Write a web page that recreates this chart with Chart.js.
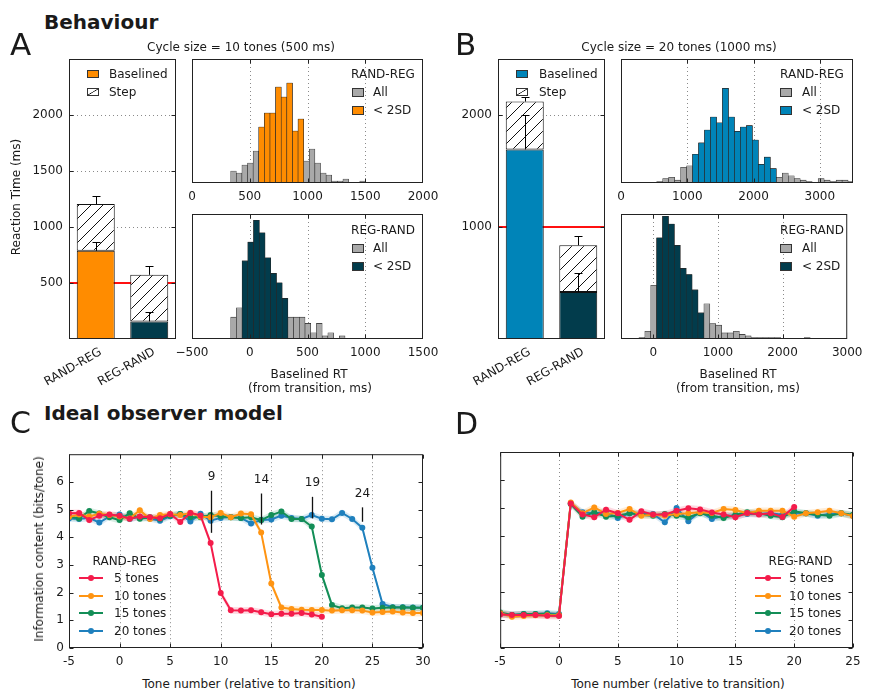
<!DOCTYPE html>
<html><head><meta charset="utf-8">
<script src="https://cdn.jsdelivr.net/npm/chart.js"></script>
<style>
html,body{margin:0;padding:0;background:#fff;}
body{width:871px;height:692px;position:relative;overflow:hidden;font-family:"DejaVu Sans",sans-serif;color:#1a1a1a;}
canvas{position:absolute;}
.t{position:absolute;white-space:nowrap;line-height:1;}
.bx{position:absolute;box-sizing:border-box;border:1px solid #333;}
</style></head><body>
<script>
// ================= DATA =================
// Panels A/B: bar charts (ms)
const barCategories = ['RAND-REG', 'REG-RAND'];
const baselinedA = [787, 157];
const totalA = [1205, 573];
const errTotalA = [75, 83];
const errBaselinedA = [83, 83];
const baselinedB = [1693, 419];
const totalB = [2120, 837];
const errTotalB = [41, 81];
const errBaselinedB = [308, 174];
const barTicksA = [500, 1000, 1500, 2000];
const barTicksB = [1000, 2000];

// Histograms: bin centres (ms) and counts; *_sel = index range of bins inside 2SD
const histA1Bins = [359.3, 407.9, 456.5, 505.1, 553.7, 602.3, 650.9, 699.5, 748.1, 796.7, 845.3, 893.9, 942.5, 991.1, 1039.7, 1088.3, 1136.9, 1185.5, 1234.1, 1282.7, 1331.3, 1379.9, 1428.5, 1477.1];
const histA1Counts = [6, 5, 9, 10, 16, 28, 35, 35, 48, 43, 50, 26, 32, 11, 17, 10, 5, 4, 1, 1, 2, 0, 0, 1];
const histA1Sel = [5, 12];
const histA2Bins = [-140.25, -90.75, -41.25, 8.25, 57.75, 107.25, 156.75, 206.25, 255.75, 305.25, 354.75, 404.25, 453.75, 503.25, 552.75, 602.25, 651.75, 701.25, 750.75, 800.25];
const histA2Counts = [7, 10, 25, 31, 38, 34, 26, 21, 18, 13, 7, 7, 7, 5, 2, 5, 1, 2, 0, 1];
const histA2Sel = [2, 9];
const histB1Bins = [583.1, 673.4, 763.6, 853.9, 944.1, 1034.4, 1124.6, 1214.9, 1305.1, 1395.4, 1485.6, 1575.9, 1666.1, 1756.4, 1846.6, 1936.9, 2027.1, 2117.4, 2207.6, 2297.9, 2388.1, 2478.4, 2568.6, 2658.9, 2749.1, 2839.4, 2929.6, 3019.9, 3110.1, 3200.4, 3290.6, 3380.9, 3471.1];
const histB1Counts = [1, 3, 4, 2, 11, 12, 20, 28, 37, 46, 42, 66, 46, 36, 39, 40, 30, 13, 18, 10, 4, 7, 5, 3, 2, 1, 0, 3, 2, 1, 2, 2, 1];
const histB1Sel = [6, 19];
const histB2Bins = [-177.3, -85.9, 5.5, 96.9, 188.3, 279.7, 371.1, 462.5, 553.9, 645.3, 736.7, 828.1, 919.5, 1010.9, 1102.3, 1193.7, 1285.1, 1376.5, 1467.9, 1559.3, 1650.7, 1742.1, 1833.5, 1924.9, 2016.3, 2107.7, 2199.1, 2290.5, 2381.9];
const histB2Counts = [1, 5, 35, 66, 80, 75, 61, 46, 42, 32, 17, 23, 10, 9, 4, 4, 5, 3, 2, 1, 1, 1, 1, 1, 0, 0, 0, 0, 1];
const histB2Sel = [3, 10];
const histTicksA1 = [0, 500, 1000, 1500, 2000];
const histTicksA2 = [-500, 0, 500, 1000, 1500];
const histTicksB1 = [0, 1000, 2000, 3000];
const histTicksB2 = [0, 1000, 2000, 3000];

// Panels C/D: information content (bits/tone)
const seriesLabels = ['5 tones', '10 tones', '15 tones', '20 tones'];
const tonesC = [-5,-4,-3,-2,-1,0,1,2,3,4,5,6,7,8,9,10,11,12,13,14,15,16,17,18,19,20,21,22,23,24,25,26,27,28,29,30];
const c5  = [4.87,4.88,4.62,4.78,4.82,4.78,4.67,4.75,4.72,4.69,4.84,4.55,4.88,4.79,3.79,1.99,1.36,1.35,1.36,1.29,1.22,1.24,1.24,1.26,1.21,1.13];
const c10 = [4.73,4.82,4.75,4.85,4.80,4.75,4.68,4.98,4.66,4.80,4.83,4.80,4.88,4.74,4.72,4.88,4.72,4.86,4.83,4.17,2.33,1.46,1.41,1.38,1.37,1.37,1.35,1.36,1.36,1.35,1.28,1.30,1.32,1.28,1.26,1.26];
const c15 = [4.75,4.68,4.95,4.86,4.72,4.62,4.87,4.67,4.72,4.66,4.78,4.84,4.72,4.72,4.80,4.76,4.72,4.70,4.72,4.62,4.80,4.93,4.66,4.66,4.39,2.64,1.55,1.44,1.46,1.46,1.43,1.45,1.46,1.46,1.45,1.45];
const c20 = [4.68,4.66,4.70,4.53,4.75,4.82,4.66,4.74,4.68,4.60,4.76,4.84,4.57,4.85,4.60,4.70,4.73,4.70,4.50,4.62,4.64,4.78,4.70,4.66,4.80,4.67,4.65,4.88,4.66,4.34,2.90,1.59,1.47,1.47,1.46,1.45];
const tonesD = [-5,-4,-3,-2,-1,0,1,2,3,4,5,6,7,8,9,10,11,12,13,14,15,16,17,18,19,20,21,22,23,24,25];
const d5  = [1.20,1.18,1.18,1.18,1.15,1.14,5.16,4.77,4.67,4.94,4.81,4.58,4.88,4.77,4.77,4.90,4.99,4.95,4.84,4.77,4.67,4.82,4.77,4.81,4.68,5.04];
const d10 = [1.24,1.12,1.14,1.17,1.17,1.17,5.20,4.81,5.02,4.79,4.82,4.96,4.72,4.76,4.72,4.79,4.81,4.85,4.82,4.96,4.93,4.81,4.90,4.90,4.90,4.69,4.81,4.85,4.90,4.81,4.71];
const d15 = [1.27,1.18,1.21,1.21,1.21,1.18,5.14,4.69,4.85,4.69,4.72,4.81,4.76,4.72,4.79,4.72,4.67,4.81,4.72,4.64,4.76,4.85,4.81,4.72,4.67,4.88,4.81,4.76,4.72,4.81,4.76];
const d20 = [1.21,1.18,1.21,1.21,1.24,1.21,5.16,4.85,4.81,4.85,4.64,4.81,4.79,4.79,4.49,5.00,4.53,4.88,4.61,4.72,4.72,4.79,4.79,4.81,4.76,4.81,4.81,4.72,4.79,4.81,4.72];
const semIC = 0.12;
const annotTones = [9, 14, 19, 24];
const annotTop = [5.68, 5.58, 5.46, 5.08];
const annotBottom = [4.16, 4.46, 4.68, 4.56];
const annotLabelY = [6.18, 6.06, 5.98, 5.57];
const ticksCx = [-5, 0, 5, 10, 15, 20, 25, 30];
const ticksDx = [-5, 0, 5, 10, 15, 20, 25];
const ticksIC = [0, 1, 2, 3, 4, 5, 6];

// ================= STYLE =================
const grayFill = '#a9a9a9', edge = '#262626';
const orange = '#ff8c00', blue = '#0084b8', navy = '#023c4c';
const lineColors = ['#f41c4b', '#ff9412', '#138e57', '#1f80bd'];
const bandColors = ['rgba(244,28,75,0.17)', 'rgba(255,148,18,0.17)', 'rgba(19,142,87,0.17)', 'rgba(31,128,189,0.17)'];
Chart.defaults.font.family = '"DejaVu Sans", sans-serif';
Chart.defaults.font.size = 12;
Chart.defaults.color = '#1a1a1a';

function hatchPattern() {
  const s = 12, p = document.createElement('canvas');
  p.width = s; p.height = s;
  const g = p.getContext('2d');
  g.fillStyle = '#fff'; g.fillRect(0, 0, s, s);
  g.strokeStyle = '#111'; g.lineWidth = 1;
  g.beginPath();
  g.moveTo(-1, s + 1); g.lineTo(s + 1, -1);
  g.moveTo(-1, 1); g.lineTo(1, -1);
  g.moveTo(s - 1, s + 1); g.lineTo(s + 1, s - 1);
  g.stroke();
  return g.createPattern(p, 'repeat');
}
const hatch = hatchPattern();

let pid = 0;
function mpl(o) {
  return {
    id: 'mpl' + (pid++),
    beforeDatasetsDraw(chart) {
      const ctx = chart.ctx, a = chart.chartArea, xs = chart.scales.x, ys = chart.scales.y;
      ctx.save();
      ctx.beginPath(); ctx.rect(a.left, a.top, a.right - a.left, a.bottom - a.top); ctx.clip();
      ctx.strokeStyle = '#8a8a8a'; ctx.lineWidth = 1; ctx.setLineDash([1, 3]);
      (o.xGrid || []).forEach(v => { const p = Math.round(xs.getPixelForValue(v)) + 0.5; ctx.beginPath(); ctx.moveTo(p, a.top); ctx.lineTo(p, a.bottom); ctx.stroke(); });
      (o.yGrid || []).forEach(v => { const p = Math.round(ys.getPixelForValue(v)) + 0.5; ctx.beginPath(); ctx.moveTo(a.left, p); ctx.lineTo(a.right, p); ctx.stroke(); });
      ctx.setLineDash([]);
      (o.hLines || []).forEach(h => { const p = ys.getPixelForValue(h.v); ctx.strokeStyle = h.color; ctx.lineWidth = h.width; ctx.beginPath(); ctx.moveTo(a.left, p); ctx.lineTo(a.right, p); ctx.stroke(); });
      ctx.restore();
    },
    afterDatasetsDraw(chart) {
      const ctx = chart.ctx, a = chart.chartArea, xs = chart.scales.x, ys = chart.scales.y;
      ctx.save();
      if (o.extra) o.extra(chart, ctx, xs, ys, a);
      ctx.strokeStyle = '#222'; ctx.lineWidth = 1; ctx.setLineDash([]);
      const L = a.left + 0.5, T = a.top + 0.5, R = a.right - 0.5, B = a.bottom - 0.5;
      ctx.strokeRect(L, T, R - L, B - T);
      const tl = 4;
      ctx.beginPath();
      (o.xTicks || []).forEach(v => { const p = Math.round(xs.getPixelForValue(v)) + 0.5; ctx.moveTo(p, B); ctx.lineTo(p, B - tl); ctx.moveTo(p, T); ctx.lineTo(p, T + tl); });
      (o.yTicks || []).forEach(v => { const p = Math.round(ys.getPixelForValue(v)) + 0.5; ctx.moveTo(L, p); ctx.lineTo(L + tl, p); ctx.moveTo(R, p); ctx.lineTo(R - tl, p); });
      ctx.stroke();
      ctx.restore();
    }
  };
}

function makeChart(plot, pad, type, datasets, labels, xScale, yScale, deco) {
  const c = document.createElement('canvas');
  const W = plot.r - plot.l + pad.l + pad.r, H = plot.b - plot.t + pad.t + pad.b;
  c.width = W; c.height = H;
  Object.assign(c.style, {left: (plot.l - pad.l) + 'px', top: (plot.t - pad.t) + 'px', width: W + 'px', height: H + 'px'});
  document.body.appendChild(c);
  xScale.afterFit = s => { s.height = pad.b; };
  yScale.afterFit = s => { s.width = pad.l; };
  xScale.grid = {display: false, drawTicks: false, offset: false}; xScale.border = {display: false};
  yScale.grid = {display: false, drawTicks: false}; yScale.border = {display: false};
  const data = {datasets};
  if (labels) data.labels = labels;
  return new Chart(c, {
    type, data,
    options: {
      responsive: false, animation: false, devicePixelRatio: 1, events: [],
      layout: {padding: {left: 0, top: pad.t, right: pad.r, bottom: 0}},
      plugins: {legend: {display: false}, tooltip: {enabled: false}},
      scales: {x: xScale, y: yScale}
    },
    plugins: [mpl(deco)]
  });
}

function fixedTicks(arr) { return s => { s.ticks = arr.map(v => ({value: v})); }; }

function errorBars(total, errT, base, errB) {
  return (chart, ctx, xs, ys) => {
    ctx.strokeStyle = '#000'; ctx.lineWidth = 1;
    barCategories.forEach((c, i) => {
      const x = Math.round(xs.getPixelForValue(i)) + 0.5;
      [[total[i], errT[i]], [base[i], errB[i]]].forEach(([v, e]) => {
        const y0 = ys.getPixelForValue(v), y1 = Math.round(ys.getPixelForValue(v + e)) + 0.5;
        ctx.beginPath(); ctx.moveTo(x, y0); ctx.lineTo(x, y1); ctx.moveTo(x - 4, y1); ctx.lineTo(x + 4, y1); ctx.stroke();
      });
    });
  };
}

function barPanel(plot, pad, base, total, errT, errB, baseColors, ticks, yMax, grid, refLine) {
  makeChart(plot, pad, 'bar', [
    {label: 'Baselined', data: base, backgroundColor: baseColors, borderColor: '#111', borderWidth: 1, borderSkipped: false, barPercentage: 0.71, categoryPercentage: 1},
    {label: 'Step', data: total.map((t, i) => t - base[i]), backgroundColor: hatch, borderColor: '#111', borderWidth: 1, borderSkipped: false, barPercentage: 0.71, categoryPercentage: 1}
  ], barCategories,
  {type: 'category', stacked: true, offset: true, ticks: {minRotation: 30, maxRotation: 30, padding: 6, labelOffset: 5}},
  {type: 'linear', stacked: true, min: 0, max: yMax, afterBuildTicks: fixedTicks(ticks), ticks: {padding: 6, callback: v => String(v)}},
  {yGrid: grid, hLines: [{v: refLine, color: '#ff1010', width: 2}], yTicks: ticks, extra: errorBars(total, errT, base, errB)});
}

function histPanel(plot, pad, bins, counts, sel, selColor, xMin, xMax, yMax, ticks, grid) {
  const all = bins.map((b, i) => ({x: b, y: counts[i]}));
  const inside = all.filter((d, i) => i >= sel[0] && i <= sel[1]);
  const common = {borderColor: edge, borderWidth: 0.6, borderSkipped: false, grouped: false, barPercentage: 1, categoryPercentage: 1};
  makeChart(plot, pad, 'bar', [
    Object.assign({label: '< 2SD', data: inside, backgroundColor: selColor}, common),
    Object.assign({label: 'All', data: all, backgroundColor: grayFill}, common)
  ], null,
  {type: 'linear', offset: false, min: xMin, max: xMax, afterBuildTicks: fixedTicks(ticks), ticks: {padding: 6.5, callback: v => String(v).replace('-', '\u2212')}},
  {type: 'linear', min: 0, max: yMax, ticks: {display: false}},
  {xGrid: grid, xTicks: grid});
}

function icPanel(plot, pad, tones, series, xMin, xMax, xTicks, xGrid, showY, extra) {
  const ds = [];
  series.forEach((s, k) => ds.push({label: seriesLabels[k], data: s.map((v, i) => ({x: tones[i], y: v})), borderColor: lineColors[k], backgroundColor: lineColors[k], borderWidth: 2, pointRadius: 3, pointBorderWidth: 0, pointHoverRadius: 0, tension: 0, fill: false}));
  series.forEach((s, k) => {
    ds.push({data: s.map((v, i) => ({x: tones[i], y: v - semIC})), borderWidth: 0, pointRadius: 0, fill: false, borderColor: 'rgba(0,0,0,0)'});
    ds.push({data: s.map((v, i) => ({x: tones[i], y: v + semIC})), borderWidth: 0, pointRadius: 0, fill: '-1', borderColor: 'rgba(0,0,0,0)', backgroundColor: bandColors[k]});
  });
  makeChart(plot, pad, 'line', ds, null,
    {type: 'linear', offset: false, min: xMin, max: xMax, afterBuildTicks: fixedTicks(xTicks), ticks: {padding: 6.2, callback: v => String(v)}},
    {type: 'linear', min: 0, max: 7, afterBuildTicks: fixedTicks(ticksIC), ticks: {display: showY, padding: 5, callback: v => String(v)}},
    {xGrid: xGrid, xTicks: xTicks, yTicks: ticksIC, extra: extra});
}

// ================= HTML TEXT HELPERS =================
function label(text, x, y, o = {}) {
  const d = document.createElement('div');
  d.className = 't'; d.textContent = text;
  d.style.left = x + 'px'; d.style.top = y + 'px';
  d.style.fontSize = (o.size || 12) + 'px';
  if (o.bold) d.style.fontWeight = 'bold';
  const ax = o.align === 'left' ? '0' : '-50%';
  d.style.transform = 'translate(' + ax + ',-50%)' + (o.rot ? ' rotate(' + o.rot + 'deg)' : '');
  document.body.appendChild(d);
}
function swatch(x, y, w, h, bg) {
  const d = document.createElement('div');
  d.className = 'bx';
  Object.assign(d.style, {left: x + 'px', top: y + 'px', width: w + 'px', height: h + 'px', background: bg});
  document.body.appendChild(d);
}
const hatchCss = 'linear-gradient(to bottom right, #fff calc(50% - 0.7px), #111 50%, #fff calc(50% + 0.7px))';
function lineKey(x1, x2, y, color) {
  const l = document.createElement('div');
  Object.assign(l.style, {position: 'absolute', left: x1 + 'px', top: (y - 1) + 'px', width: (x2 - x1) + 'px', height: '2px', background: color});
  document.body.appendChild(l);
  const d = document.createElement('div');
  const cx = (x1 + x2) / 2;
  Object.assign(d.style, {position: 'absolute', left: (cx - 3) + 'px', top: (y - 3) + 'px', width: '6px', height: '6px', borderRadius: '50%', background: color});
  document.body.appendChild(d);
}

// ================= PANELS =================
barPanel({l: 69, t: 59, r: 176, b: 339}, {l: 69, t: 15, r: 10, b: 60}, baselinedA, totalA, errTotalA, errBaselinedA, [orange, navy], barTicksA, 2500, [1000, 1500, 2000], 500);
barPanel({l: 498, t: 59, r: 605, b: 339}, {l: 60, t: 15, r: 10, b: 60}, baselinedB, totalB, errTotalB, errBaselinedB, [blue, navy], barTicksB, 2500, [2000], 1000);

histPanel({l: 192, t: 59, r: 423, b: 183}, {l: 26, t: 10, r: 26, b: 25}, histA1Bins, histA1Counts, histA1Sel, orange, 0, 2000, 62, histTicksA1, [500, 1000, 1500]);
histPanel({l: 192, t: 214, r: 423, b: 339}, {l: 26, t: 10, r: 26, b: 25}, histA2Bins, histA2Counts, histA2Sel, navy, -500, 1500, 40, histTicksA2, [0, 500, 1000]);
histPanel({l: 621, t: 59, r: 853, b: 183}, {l: 16, t: 10, r: 16, b: 25}, histB1Bins, histB1Counts, histB1Sel, blue, 0, 3500, 86.5, histTicksB1, [1000, 2000, 3000]);
histPanel({l: 621, t: 214, r: 853, b: 339}, {l: 16, t: 10, r: 16, b: 25}, histB2Bins, histB2Counts, histB2Sel, navy, -500, 3000, 81.5, histTicksB2, [0, 1000, 2000]);

icPanel({l: 69, t: 452, r: 423, b: 648}, {l: 30, t: 10, r: 20, b: 25}, tonesC, [c5, c10, c15, c20], -5, 30, ticksCx, [0, 5, 10, 15, 20, 25], true,
  (chart, ctx, xs, ys) => {
    ctx.strokeStyle = '#111'; ctx.lineWidth = 1.3; ctx.fillStyle = '#1a1a1a';
    ctx.font = '12px "DejaVu Sans"'; ctx.textAlign = 'center'; ctx.textBaseline = 'middle';
    annotTones.forEach((t, i) => {
      const x = Math.round(xs.getPixelForValue(t)) + 0.5;
      ctx.beginPath(); ctx.moveTo(x, ys.getPixelForValue(annotTop[i])); ctx.lineTo(x, ys.getPixelForValue(annotBottom[i])); ctx.stroke();
      ctx.fillText(String(t), x, ys.getPixelForValue(annotLabelY[i]));
    });
  });
icPanel({l: 498, t: 452, r: 853, b: 648}, {l: 10, t: 10, r: 15, b: 25}, tonesD, [d5, d10, d15, d20], -5, 25, ticksDx, [0, 5, 10, 15, 20], false, null);

// ================= TEXT & LEGENDS =================
label('Behaviour', 44, 21.5, {size: 20, bold: true, align: 'left'});
label('Ideal observer model', 44, 413, {size: 20, bold: true, align: 'left'});
label('A', 10, 43.5, {size: 31, align: 'left'});
label('B', 455, 43.5, {size: 31, align: 'left'});
label('C', 10, 422.5, {size: 30, align: 'left'});
label('D', 455, 424, {size: 30, align: 'left'});
label('Cycle size = 10 tones (500 ms)', 241, 46.5);
label('Cycle size = 20 tones (1000 ms)', 679, 46.5);
label('Reaction Time (ms)', 16, 197, {rot: -90});
label('Information content (bits/tone)', 39, 549, {rot: -90});
label('Baselined RT', 309, 374.3);
label('(from transition, ms)', 310, 387.7);
label('Baselined RT', 738, 374.3);
label('(from transition, ms)', 738, 387.7);
label('Tone number (relative to transition)', 249, 684);
label('Tone number (relative to transition)', 678, 684);

// bar legends
swatch(87, 70, 12, 8, orange); label('Baselined', 109, 74, {align: 'left'});
swatch(87, 88, 12, 8, hatchCss); label('Step', 109, 92, {align: 'left'});
swatch(516, 70, 12, 8, blue); label('Baselined', 539, 74, {align: 'left'});
swatch(516, 88, 12, 8, hatchCss); label('Step', 539, 92, {align: 'left'});

// histogram legends
function histLegend(cx, ty, bx, tx, title, col) {
  label(title, cx, ty);
  swatch(bx, ty + 14, 12, 9, grayFill); label('All', tx, ty + 18, {align: 'left'});
  swatch(bx, ty + 31.5, 12, 9, col); label('< 2SD', tx, ty + 36, {align: 'left'});
}
histLegend(383, 74, 352, 373, 'RAND-REG', orange);
histLegend(383, 230.3, 352, 373, 'REG-RAND', navy);
histLegend(812, 74, 780, 802, 'RAND-REG', blue);
histLegend(812, 230.3, 780, 802, 'REG-RAND', navy);

// line legends
function lineLegend(cx, x1, x2, tx, title) {
  label(title, cx, 561);
  [578.3, 596, 613.3, 631].forEach((y, k) => { lineKey(x1, x2, y, lineColors[k]); label(seriesLabels[k], tx, y, {align: 'left'}); });
}
lineLegend(124.5, 79, 103, 114, 'RAND-REG');
lineLegend(800.5, 755, 781, 789, 'REG-RAND');
</script>
</body></html>
